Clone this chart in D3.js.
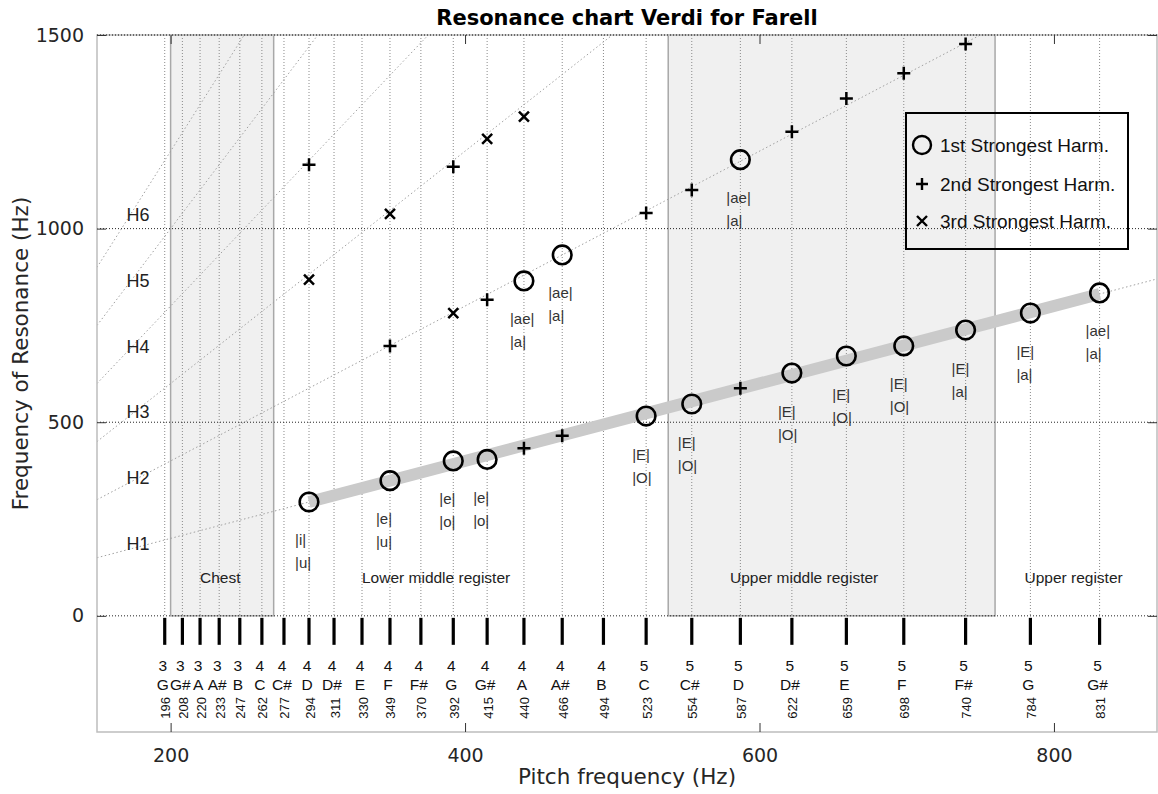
<!DOCTYPE html>
<html>
<head>
<meta charset="utf-8">
<script src="https://cdn.jsdelivr.net/npm/d3@7"></script>
<style>
  body { margin: 0; background: #fff; }
  svg { display: block; }
</style>
</head>
<body>
<svg id="chart" width="1158" height="794"></svg>
<script>
// ---- Piano keys shown along the bottom strip ----
const noteOctaves = [3,3,3,3,3,4,4,4,4,4,4,4,4,4,4,4,4,5,5,5,5,5,5,5,5,5];
const noteNames   = ["G","G#","A","A#","B","C","C#","D","D#","E","F","F#","G","G#","A","A#","B","C","C#","D","D#","E","F","F#","G","G#"];
const noteHz      = [196,208,220,233,247,262,277,294,311,330,349,370,392,415,440,466,494,523,554,587,622,659,698,740,784,831];

// ---- Sung pitches and their strongest resonances (Hz) ----
const sungPitch   = [294,349,392,415,440,466,523,554,587,622,659,698,740,784,831];
const firstHarm   = [294,349,400,404,865,932,516,547,1178,627,671,697,738,782,834];
const secondHarm  = [1165,697,1160,816,433,465,1040,1100,588,1250,1336,1401,1477,null,null];
const thirdHarm   = [868,1038,782,1232,1289,null,null,null,null,null,null,null,null,null,null];
const vowelTop    = ["|i|","|e|","|e|","|e|","|ae|","|ae|","|E|","|E|","|ae|","|E|","|E|","|E|","|E|","|E|","|ae|"];
const vowelBottom = ["|u|","|u|","|o|","|o|","|a|","|a|","|O|","|O|","|a|","|O|","|O|","|O|","|a|","|a|","|a|"];

// ---- Registers ----
const shadedRegisters = [[200, 270], [538, 760]];
const registerNames   = ["Chest", "Lower middle register", "Upper middle register", "Upper register"];
const registerLabelHz = [220, 330, 580, 780];

// ---- Harmonic guide lines ----
const harmonics = [1, 2, 3, 4, 5, 6];
const harmonicLabelHz = 170;

// ---- Axes ----
const xTicks = [200, 400, 600, 800];
const yTicks = [0, 500, 1000, 1500];
const legendLabels = ["1st Strongest Harm.", "2nd Strongest Harm.", "3rd Strongest Harm."];

const svg = d3.select("#chart");
const L = 97, R = 1157, T = 35, B = 732;
const x = d3.scaleLinear().domain([150, 870]).range([L, R]);
const y = d3.scaleLinear().domain([-300, 1500]).range([B, T]);

const SANS = "'Liberation Sans', Arial, sans-serif";
const DEJA = "'DejaVu Sans', sans-serif";

svg.append("rect").attr("width", 1158).attr("height", 794).attr("fill", "#fff");

svg.append("defs").append("clipPath").attr("id", "upper")
  .append("rect").attr("x", L).attr("y", T).attr("width", R - L).attr("height", y(0) - T);

// shaded registers
svg.append("g").selectAll("rect").data(shadedRegisters).join("rect")
  .attr("x", d => x(d[0])).attr("width", d => x(d[1]) - x(d[0]))
  .attr("y", y(1500)).attr("height", y(0) - y(1500))
  .attr("fill", "#f0f0f0").attr("stroke", "#a8a8a8").attr("stroke-width", 1.5);

// vertical note grid
svg.append("g").selectAll("line").data(noteHz).join("line")
  .attr("x1", d => x(d)).attr("x2", d => x(d))
  .attr("y1", y(1500)).attr("y2", y(0))
  .attr("stroke", "#8a8a8a").attr("stroke-width", 1).attr("stroke-dasharray", "1,2");

// horizontal grid
svg.append("g").selectAll("line").data(yTicks).join("line")
  .attr("x1", L).attr("x2", R).attr("y1", d => y(d)).attr("y2", d => y(d))
  .attr("stroke", "#222").attr("stroke-width", 1).attr("stroke-dasharray", "1,2");

// harmonic guide lines f = n * pitch
const hg = svg.append("g").attr("clip-path", "url(#upper)");
hg.selectAll("line").data(harmonics).join("line")
  .attr("x1", x(150)).attr("y1", n => y(150 * n))
  .attr("x2", x(870)).attr("y2", n => y(870 * n))
  .attr("stroke", "#a0a0a0").attr("stroke-width", 1).attr("stroke-dasharray", "1.5,2.5");

svg.append("g").selectAll("text").data(harmonics).join("text")
  .attr("x", x(harmonicLabelHz)).attr("y", n => y(harmonicLabelHz * n))
  .attr("font-family", SANS).attr("font-size", 18).attr("fill", "#222")
  .text(n => "H" + n);

// trend of the fundamental across the sung range
const p0 = d3.min(sungPitch), p1 = d3.max(sungPitch);
svg.append("line")
  .attr("x1", x(p0)).attr("y1", y(p0)).attr("x2", x(p1)).attr("y2", y(p1))
  .attr("stroke", "#cacaca").attr("stroke-width", 12);

// register labels
svg.append("g").selectAll("text").data(registerNames).join("text")
  .attr("x", (d, i) => x(registerLabelHz[i])).attr("y", y(100))
  .attr("dominant-baseline", "central")
  .attr("font-family", SANS).attr("font-size", 15.5).attr("fill", "#222")
  .text(d => d);

// markers
const plus = s => `M${-s},0H${s}M0,${-s}V${s}`;
const cross = s => `M${-s},${-s}L${s},${s}M${-s},${s}L${s},${-s}`;
const pts = (arr) => sungPitch.map((p, i) => [p, arr[i]]).filter(d => d[1] != null);

svg.append("g").selectAll("circle").data(pts(firstHarm)).join("circle")
  .attr("cx", d => x(d[0])).attr("cy", d => y(d[1])).attr("r", 9.3)
  .attr("fill", "none").attr("stroke", "#000").attr("stroke-width", 2.6);

svg.append("g").selectAll("path").data(pts(secondHarm)).join("path")
  .attr("transform", d => `translate(${x(d[0])},${y(d[1])})`)
  .attr("d", plus(6.5)).attr("stroke", "#000").attr("stroke-width", 2.5).attr("fill", "none");

svg.append("g").selectAll("path").data(pts(thirdHarm)).join("path")
  .attr("transform", d => `translate(${x(d[0])},${y(d[1])})`)
  .attr("d", cross(5)).attr("stroke", "#000").attr("stroke-width", 2.5).attr("fill", "none");

// vowel labels below each strongest resonance
const vg = svg.append("g").attr("font-family", SANS).attr("font-size", 15).attr("fill", "#333");
sungPitch.forEach((p, i) => {
  vg.append("text").attr("x", x(p) - 14).attr("y", y(firstHarm[i]) + 38)
    .attr("dominant-baseline", "central").text(vowelTop[i]);
  vg.append("text").attr("x", x(p) - 14).attr("y", y(firstHarm[i]) + 61)
    .attr("dominant-baseline", "central").text(vowelBottom[i]);
});

// keyboard strip
const y0 = y(0);
svg.append("g").selectAll("line").data(noteHz).join("line")
  .attr("x1", d => x(d)).attr("x2", d => x(d))
  .attr("y1", y0 + 2).attr("y2", y0 + 29)
  .attr("stroke", "#000").attr("stroke-width", 3.2);

const kg = svg.append("g").attr("font-family", SANS).attr("fill", "#111");
noteHz.forEach((f, i) => {
  kg.append("text").attr("x", x(f) - 2).attr("y", y0 + 50)
    .attr("text-anchor", "middle").attr("dominant-baseline", "central")
    .attr("font-size", 15.5).text(noteOctaves[i]);
  kg.append("text").attr("x", x(f) - 2).attr("y", y0 + 69)
    .attr("text-anchor", "middle").attr("dominant-baseline", "central")
    .attr("font-size", 15.5).text(noteNames[i]);
  kg.append("text")
    .attr("transform", `translate(${x(f) + 1},${y0 + 92}) rotate(-90)`)
    .attr("text-anchor", "middle").attr("dominant-baseline", "central")
    .attr("font-size", 13).text(f);
});

// axes box and ticks
svg.append("rect").attr("x", L).attr("y", T).attr("width", R - L).attr("height", B - T)
  .attr("fill", "none").attr("stroke", "#bdbdbd").attr("stroke-width", 1.5);
svg.append("line").attr("x1", L).attr("x2", R).attr("y1", T).attr("y2", T)
  .attr("stroke", "#222").attr("stroke-dasharray", "1,2");

function styleAxis(g) {
  g.select(".domain").remove();
  g.selectAll(".tick line").attr("stroke", "#333");
  g.selectAll(".tick text").attr("font-family", DEJA).attr("font-size", 19).attr("fill", "#262626");
}
svg.append("g").attr("transform", `translate(0,${B})`)
  .call(d3.axisBottom(x).tickValues(xTicks).tickSize(-9).tickPadding(17)).call(styleAxis);
svg.append("g").attr("transform", `translate(0,${T})`)
  .call(d3.axisTop(x).tickValues(xTicks).tickSize(-9).tickFormat("")).call(styleAxis);
svg.append("g").attr("transform", `translate(${L},0)`)
  .call(d3.axisLeft(y).tickValues(yTicks).tickFormat(d3.format("d")).tickSize(-9).tickPadding(13)).call(styleAxis);
svg.append("g").attr("transform", `translate(${R},0)`)
  .call(d3.axisRight(y).tickValues(yTicks).tickSize(-9).tickFormat("")).call(styleAxis);

// legend
const lg = svg.append("g");
lg.append("rect").attr("x", 906).attr("y", 113).attr("width", 222).attr("height", 136)
  .attr("fill", "none").attr("stroke", "#000").attr("stroke-width", 2);
const ly = [145, 184, 221];
lg.append("circle").attr("cx", 922).attr("cy", ly[0]).attr("r", 9)
  .attr("fill", "none").attr("stroke", "#000").attr("stroke-width", 2.4);
lg.append("path").attr("transform", `translate(922,${ly[1]})`).attr("d", plus(6))
  .attr("stroke", "#000").attr("stroke-width", 2.4);
lg.append("path").attr("transform", `translate(922,${ly[2]})`).attr("d", cross(5))
  .attr("stroke", "#000").attr("stroke-width", 2.4);
lg.selectAll("text").data(legendLabels).join("text")
  .attr("x", 940).attr("y", (d, i) => ly[i]).attr("dominant-baseline", "central")
  .attr("font-family", SANS).attr("font-size", 19).attr("fill", "#111")
  .text(d => d);

// titles
svg.append("text").attr("x", (L + R) / 2).attr("y", 18)
  .attr("text-anchor", "middle").attr("dominant-baseline", "central")
  .attr("font-family", DEJA).attr("font-weight", "bold").attr("font-size", 21)
  .text("Resonance chart Verdi for Farell");
svg.append("text").attr("x", (L + R) / 2).attr("y", 776)
  .attr("text-anchor", "middle").attr("dominant-baseline", "central")
  .attr("font-family", DEJA).attr("font-size", 21.5).attr("fill", "#262626")
  .text("Pitch frequency (Hz)");
svg.append("text").attr("transform", `translate(20,${(T + B) / 2 - 30}) rotate(-90)`)
  .attr("text-anchor", "middle").attr("dominant-baseline", "central")
  .attr("font-family", DEJA).attr("font-size", 21.5).attr("fill", "#262626")
  .text("Frequency of Resonance (Hz)");
</script>
</body>
</html>
